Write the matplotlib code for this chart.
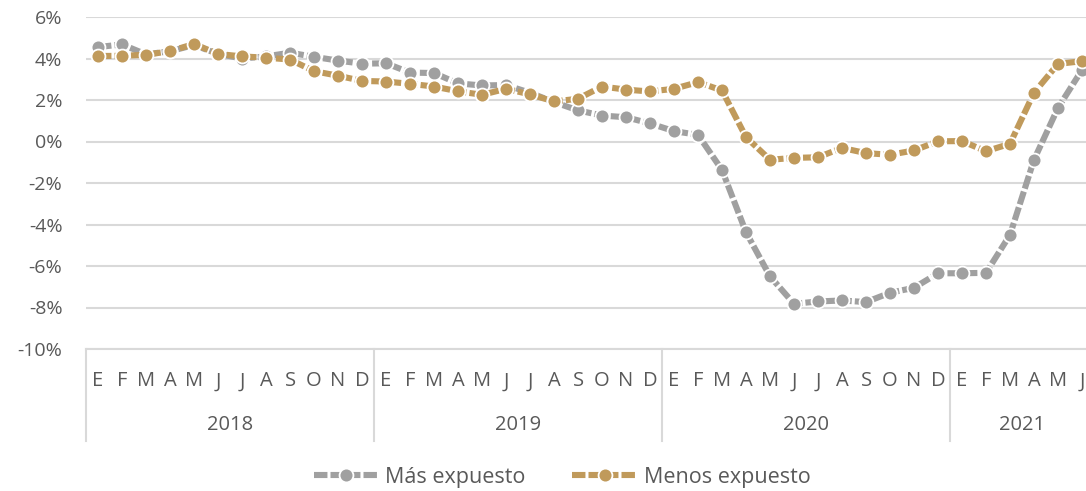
import numpy as np
import matplotlib as mpl
import matplotlib.pyplot as plt
import matplotlib.transforms as mtransforms


# DATA
# -----------
years = ['2018', '2019', '2020', '2021']
months_per_year = [12, 12, 12, 6]
month_letters = ['E', 'F', 'M', 'A', 'M', 'J', 'J', 'A', 'S', 'O', 'N', 'D']

mas_expuesto = [4.55, 4.68, 4.2, 4.35, 4.65, 4.22, 4.0, 4.1, 4.28, 4.08, 3.9, 3.75,
                3.77, 3.32, 3.3, 2.8, 2.7, 2.72, 2.35, 1.9, 1.5, 1.25, 1.17, 0.87,
                0.5, 0.32, -1.37, -4.37, -6.5, -7.82, -7.71, -7.66, -7.74, -7.29, -7.05, -6.35,
                -6.35, -6.33, -4.5, -0.88, 1.62, 3.45]
menos_expuesto = [4.12, 4.13, 4.18, 4.35, 4.7, 4.22, 4.1, 4.04, 3.95, 3.39, 3.17, 2.92,
                  2.89, 2.78, 2.65, 2.42, 2.25, 2.54, 2.27, 1.93, 2.06, 2.65, 2.5, 2.41,
                  2.54, 2.86, 2.46, 0.21, -0.88, -0.79, -0.76, -0.31, -0.56, -0.64, -0.43, 0.01,
                  0.02, -0.47, -0.11, 2.35, 3.74, 3.87]
series_names = ['Más expuesto', 'Menos expuesto']

# STYLE
# -----------
grey = '#A0A0A0'
tan = '#C09A5B'
text_color = '#595959'
grid_color = '#D9D9D9'

plt.rcParams['font.family'] = ['Open Sans', 'DejaVu Sans']
plt.rcParams['font.size'] = 14

fig = plt.figure(figsize=(10.86, 4.91), dpi=100)
ax = fig.add_axes([86 / 1086, 142 / 491, 1008 / 1086, 332 / 491])

n = len(mas_expuesto)
x = np.arange(n)

line_kw = dict(lw=4.4, marker='o', markersize=10, markeredgecolor='white',
               markeredgewidth=1.3, dashes=(2.2, 0.5), solid_capstyle='butt',
               dash_capstyle='butt')
ax.plot(x, mas_expuesto, color=grey, label=series_names[0], zorder=3, **line_kw)
ax.plot(x, menos_expuesto, color=tan, label=series_names[1], zorder=4, **line_kw)

ax.set_xlim(-0.5, n - 0.5)
ax.set_ylim(-10, 6)
ax.set_yticks(np.arange(-10, 7, 2))
ax.set_yticklabels(['%d%%' % v for v in np.arange(-10, 7, 2)], color=text_color)
ax.yaxis.grid(True, color=grid_color, lw=1.5)
ax.set_axisbelow(True)
ax.tick_params(axis='y', length=0, pad=17)

for s in ['top', 'right', 'left']:
    ax.spines[s].set_visible(False)
ax.spines['bottom'].set_color(grid_color)
ax.spines['bottom'].set_linewidth(1.5)

# month labels
labels = []
for m in months_per_year:
    labels += month_letters[:m]
ax.set_xticks(x)
ax.set_xticklabels(labels, color=text_color, fontsize=14.5)
ax.tick_params(axis='x', length=0, pad=16)

# year labels and group separators
trans = mtransforms.blended_transform_factory(ax.transData, ax.transAxes)
start = 0
for yr, m in zip(years, months_per_year):
    ax.plot([start - 0.5, start - 0.5], [0, -0.277], transform=trans, color=grid_color,
            lw=1.5, clip_on=False)
    ax.text(start + (m - 1) / 2, -0.23, yr, transform=trans, ha='center', va='center',
            color=text_color, fontsize=14.5)
    start += m

leg = fig.legend(loc='center', bbox_to_anchor=(562 / 1086, 14 / 491), ncol=2, frameon=False,
                 handlelength=3.0, columnspacing=2.2, handletextpad=0.3, fontsize=15.5)
for t in leg.get_texts():
    t.set_color(text_color)

fig.savefig('out.png', dpi=100)
